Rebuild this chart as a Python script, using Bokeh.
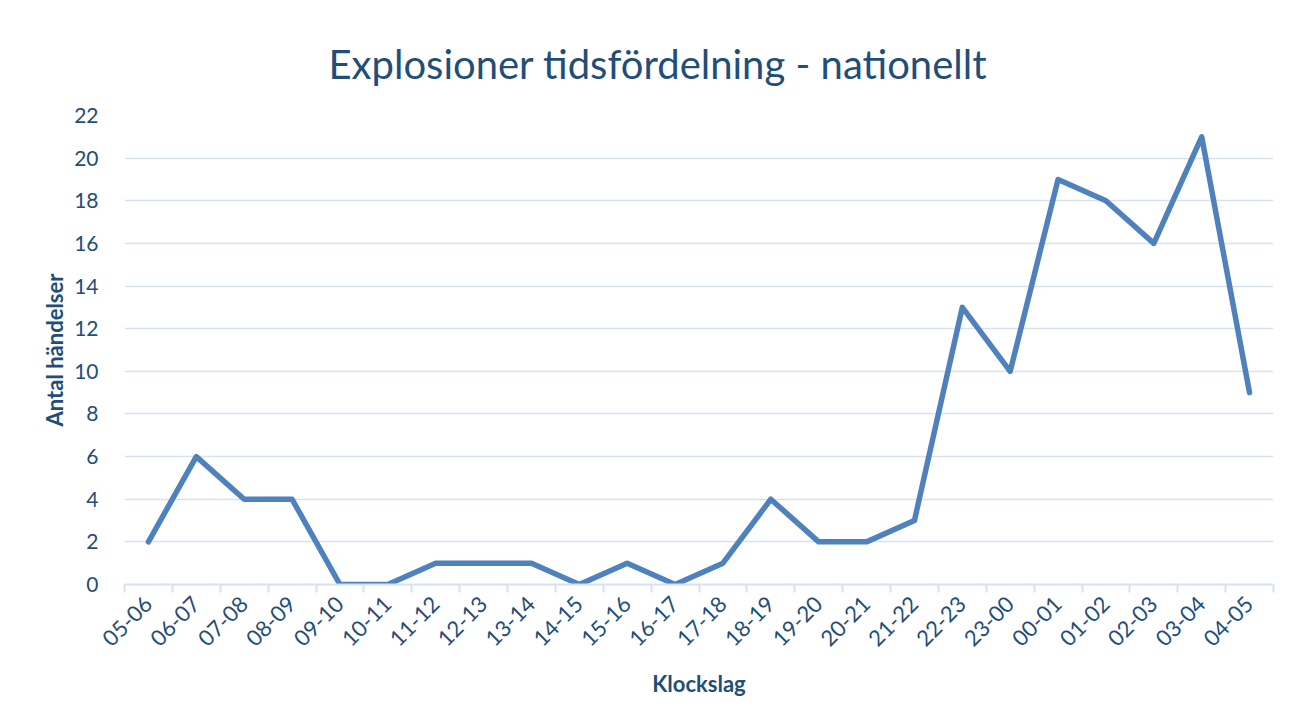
from bokeh.plotting import figure
from bokeh.models import ColumnDataSource, FixedTicker, Range1d
from bokeh.embed import file_html
from bokeh.resources import INLINE
import math

categories = ["05-06", "06-07", "07-08", "08-09", "09-10", "10-11", "11-12", "12-13",
              "13-14", "14-15", "15-16", "16-17", "17-18", "18-19", "19-20", "20-21",
              "21-22", "22-23", "23-00", "00-01", "01-02", "02-03", "03-04", "04-05"]
values = [2, 6, 4, 4, 0, 0, 1, 1, 1, 0, 1, 0, 1, 4, 2, 2, 3, 13, 10, 19, 18, 16, 21, 9]
y_ticks = list(range(0, 23, 2))

FONT = "Lato"
DARK = "#1f4e79"
GRID = "#d6e1f2"
LINE = "#4f81bd"

xs = [i + 0.5 for i in range(len(categories))]
src = ColumnDataSource(dict(x=xs, y=values, cat=categories))

p = figure(width=1277, height=708, output_backend="svg", toolbar_location=None,
           x_range=Range1d(0, len(categories)), y_range=Range1d(0, 22),
           min_border_left=124, min_border_right=4, min_border_top=115,
           min_border_bottom=124, title="Explosioner tidsfördelning - nationellt")

p.title.align = "left"
p.title.offset = 204
p.title.text_font = FONT
p.title.text_font_size = "40px"
p.title.text_font_style = "normal"
p.title.text_color = DARK
p.title.standoff = 56

p.line("x", "y", source=src, line_color=LINE, line_width=5.5, line_join="round",
       line_cap="round")

p.outline_line_color = None
p.background_fill_color = "white"
p.border_fill_color = "white"

# x axis
xa = p.xaxis[0]
xa.ticker = FixedTicker(ticks=xs, minor_ticks=list(range(len(categories) + 1)))
xa.major_label_overrides = {x: c for x, c in zip(xs, categories)}
xa.major_label_orientation = math.pi / 4
xa.major_label_text_font = FONT
xa.major_label_text_font_size = "22px"
xa.major_label_text_color = DARK
xa.major_tick_line_color = None
xa.minor_tick_line_color = GRID
xa.minor_tick_line_width = 2
xa.minor_tick_out = 8
xa.minor_tick_in = 0
xa.axis_line_color = GRID
xa.axis_line_width = 2
xa.axis_label = "Klockslag"
xa.axis_label_text_font = FONT
xa.axis_label_text_font_size = "22px"
xa.axis_label_text_font_style = "bold"
xa.axis_label_text_color = DARK
xa.axis_label_standoff = 14
xa.major_label_standoff = 8

# y axis
ya = p.yaxis[0]
ya.ticker = FixedTicker(ticks=y_ticks)
ya.major_label_text_font = FONT
ya.major_label_text_font_size = "21px"
ya.major_label_text_color = DARK
ya.major_tick_line_color = None
ya.minor_tick_line_color = None
ya.axis_line_color = None
ya.major_label_standoff = 20
ya.axis_label = "Antal händelser"
ya.axis_label_text_font = FONT
ya.axis_label_text_font_size = "22px"
ya.axis_label_text_font_style = "bold"
ya.axis_label_text_color = DARK
ya.axis_label_standoff = 3

p.xgrid.grid_line_color = None
p.ygrid.grid_line_color = GRID
p.ygrid.grid_line_width = 1.5
p.ygrid.ticker = FixedTicker(ticks=y_ticks)

open("out.html", "w").write(file_html(p, INLINE))
